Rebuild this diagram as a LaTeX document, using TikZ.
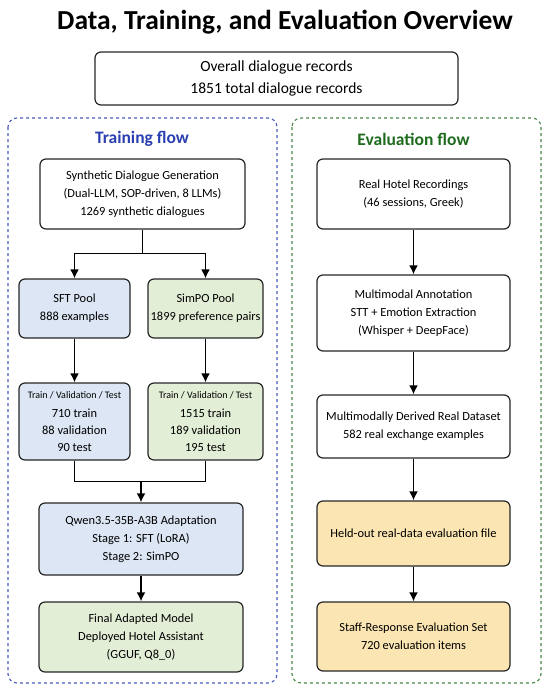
\documentclass[tikz,border=0pt]{standalone}
\usepackage{fontspec}
\setmainfont{Carlito}
\usetikzlibrary{arrows.meta,positioning,calc}

\definecolor{trainblue}{HTML}{2A3FB0}
\definecolor{evalgreen}{HTML}{1E6B1E}
\definecolor{fillblue}{HTML}{DCE6F4}
\definecolor{fillgreen}{HTML}{E3EED7}
\definecolor{fillyellow}{HTML}{FBE6B3}

\tikzset{
  box/.style={draw=black!85,line width=1.2pt,rounded corners=6pt,align=center,
    inner sep=2pt,font=\fontsize{12.4}{18}\selectfont},
  flow/.style={-{Latex[length=9pt,width=9pt]},line width=1.7pt},
  link/.style={line width=1.7pt}
}

\begin{document}
\begin{tikzpicture}[x=1pt,y=-1pt]
\useasboundingbox (0,0) rectangle (550,690);
% frames of the two flows
\draw[trainblue!85,dashed,line width=1.1pt,rounded corners=9pt] (8,118) rectangle (277,683);
\draw[evalgreen!80,dashed,line width=1.1pt,rounded corners=9pt] (292,118) rectangle (541,683);
\node[font=\fontsize{27.5}{30}\selectfont\bfseries] (title) at (285,22) {Data, Training, and Evaluation Overview};
\node[box,minimum width=363,minimum height=53,font=\fontsize{15.5}{22}\selectfont] (overall) at (276.5,78.5) {Overall dialogue records\\1851 total dialogue records};
\node[font=\fontsize{17.5}{20}\selectfont\bfseries,text=trainblue] (trainhead) at (142,139) {Training flow};
\node[font=\fontsize{17.5}{20}\selectfont\bfseries,text=evalgreen] (evalhead) at (413.5,139) {Evaluation flow};
% training side
\node[box,fill=white,minimum width=205,minimum height=70] (synth) at (142.5,194) {Synthetic Dialogue Generation\\(Dual-LLM, SOP-driven, 8 LLMs)\\1269 synthetic dialogues};
\node[box,fill=fillblue,minimum width=111,minimum height=59] (sft) at (74.5,308.5) {SFT Pool\\888 examples};
\node[box,fill=fillgreen,minimum width=115,minimum height=59] (simpo) at (205.5,308.5) {SimPO Pool\\1899 preference pairs};
\node[box,fill=fillblue,minimum width=111,minimum height=77] (sftsplit) at (74.5,421.5) {{\fontsize{10}{12}\selectfont Train / Validation / Test}\\[1pt]710 train\\[-1pt]88 validation\\[-1pt]90 test};
\node[box,fill=fillgreen,minimum width=115,minimum height=77] (simposplit) at (205.5,421.5) {{\fontsize{10}{12}\selectfont Train / Validation / Test}\\[1pt]1515 train\\[-1pt]189 validation\\[-1pt]195 test};
\node[box,fill=fillblue,minimum width=204,minimum height=72] (qwen) at (141,539) {Qwen3.5-35B-A3B Adaptation\\Stage 1: SFT (LoRA)\\Stage 2: SimPO};
\node[box,fill=fillgreen,minimum width=204,minimum height=70] (final) at (141,637) {Final Adapted Model\\Deployed Hotel Assistant\\(GGUF, Q8\_0)};
% evaluation side
\node[box,fill=white,minimum width=193,minimum height=70] (real) at (413.5,194) {Real Hotel Recordings\\(46 sessions, Greek)};
\node[box,fill=white,minimum width=193,minimum height=76] (annot) at (413.5,313) {Multimodal Annotation\\STT + Emotion Extraction\\(Whisper + DeepFace)};
\node[box,fill=white,minimum width=193,minimum height=63] (derived) at (413.5,426.5) {Multimodally Derived Real Dataset\\582 real exchange examples};
\node[box,fill=fillyellow,minimum width=193,minimum height=65] (heldout) at (413.5,533.5) {Held-out real-data evaluation file};
\node[box,fill=fillyellow,minimum width=193,minimum height=69] (staff) at (413.5,636.5) {Staff-Response Evaluation Set\\720 evaluation items};
% connectors
\coordinate (fork) at ($(synth.south)+(0,24)$);
\draw[link] (synth.south) -- (fork);
\draw[flow] (fork) -| (sft.north);
\draw[flow] (fork) -| (simpo.north);
\draw[flow] (sft) -- (sftsplit);
\draw[flow] (simpo) -- (simposplit);
\coordinate (merge) at ($(qwen.north)+(0,-21)$);
\draw[link] (sftsplit.south) |- (merge) -| (simposplit.south);
\draw[flow] (merge) -- (qwen.north);
\draw[flow] (qwen) -- (final);
\draw[flow] (real) -- (annot);
\draw[flow] (annot) -- (derived);
\draw[flow] (derived) -- (heldout);
\draw[flow] (heldout) -- (staff);
\end{tikzpicture}
\end{document}
